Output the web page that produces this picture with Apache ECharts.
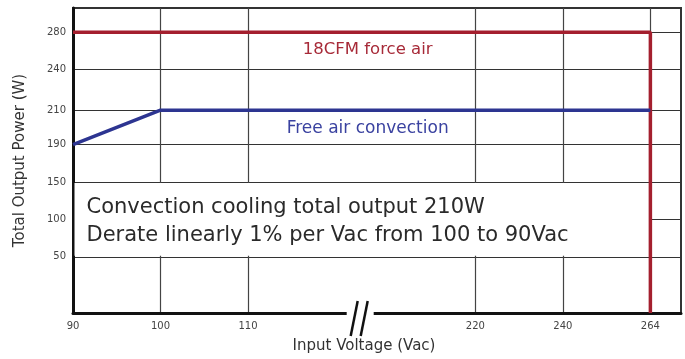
<!DOCTYPE html>
<html>
<head>
<meta charset="utf-8">
<script src="https://cdn.jsdelivr.net/npm/echarts@6/dist/echarts.min.js"></script>
<style>
  html, body { margin: 0; padding: 0; background: #fff; }
  #chart { width: 685px; height: 359px; }
</style>
</head>
<body>
<div id="chart"></div>
<script>
// Tick labels on both axes
const voltageTicks = [90, 100, 110, 220, 240, 264];
const powerTicks = [50, 100, 150, 190, 210, 240, 280];

// Derating curves (input voltage in Vac, output power in W)
const forcedAirVoltage = [90, 264, 264];
const forcedAirPower = [280, 280, 0];
const convectionVoltage = [90, 100, 264];
const convectionPower = [190, 210, 210];

const forcedAirName = '18CFM force air';
const convectionName = 'Free air convection';
const noteLines = [
  'Convection cooling total output 210W',
  'Derate linearly 1% per Vac from 100 to 90Vac'
];

// Both axes are broken / non-linear: every tick sits on a fixed slot and
// values in between are interpolated linearly between neighbouring ticks.
const xSlots = [0, 1, 2, 4.6, 5.6, 6.6];
const xRange = [0, 6.95];
const ySlots = [1, 2, 3, 4, 4.92, 6, 7];
const yRange = [-0.5, 7.65];
const yKnotValues = [0].concat(powerTicks);
const yKnotSlots = [yRange[0]].concat(ySlots);

function interp(v, vals, slots) {
  let i = 0;
  while (i < vals.length - 2 && v > vals[i + 1]) i++;
  const t = (v - vals[i]) / (vals[i + 1] - vals[i]);
  return slots[i] + t * (slots[i + 1] - slots[i]);
}
const xs = v => interp(v, voltageTicks, xSlots);
const ys = v => interp(v, yKnotValues, yKnotSlots);
const pairs = (vx, vy) => vx.map((v, i) => [xs(v), ys(vy[i])]);

function tickText(v, slots, labels) {
  const i = slots.findIndex(s => Math.abs(s - v) < 1e-6);
  return i < 0 ? '' : String(labels[i]);
}

const RED = '#a41f2e';
const BLUE = '#2d3591';
const FONT = '"DejaVu Sans", sans-serif';

const chart = echarts.init(document.getElementById('chart'));
chart.setOption({
  animation: false,
  grid: {
    left: 73, right: 4, top: 8, bottom: 46,
    show: true, borderColor: '#333', borderWidth: 2
  },
  xAxis: {
    type: 'value', min: xRange[0], max: xRange[1],
    name: 'Input Voltage (Vac)', nameLocation: 'middle', nameGap: 26,
    nameTextStyle: { fontFamily: FONT, fontSize: 15, color: '#333', padding: [0, 26, 0, 0] },
    axisLine: { show: true, onZero: false, lineStyle: { color: '#111', width: 3 } },
    axisTick: { show: false, customValues: xSlots },
    axisLabel: {
      customValues: xSlots, margin: 8,
      formatter: v => tickText(v, xSlots, voltageTicks),
      fontFamily: FONT, fontSize: 10, color: '#444'
    },
    splitLine: { show: true, lineStyle: { color: '#444', width: 1.2 } }
  },
  yAxis: {
    type: 'value', min: yRange[0], max: yRange[1],
    name: 'Total Output Power (W)', nameLocation: 'middle', nameGap: 45, nameRotate: 90,
    nameTextStyle: { fontFamily: FONT, fontSize: 15, color: '#333' },
    axisLine: { show: true, onZero: false, lineStyle: { color: '#111', width: 3 } },
    axisTick: { show: false, customValues: ySlots },
    axisLabel: {
      customValues: ySlots, margin: 7,
      formatter: v => tickText(v, ySlots, powerTicks),
      fontFamily: FONT, fontSize: 10, color: '#444'
    },
    splitLine: { show: true, lineStyle: { color: '#333', width: 1.2 } }
  },
  series: [
    {
      name: forcedAirName, type: 'line', data: pairs(forcedAirVoltage, forcedAirPower),
      symbol: 'none', z: 4,
      lineStyle: { color: RED, width: 3.5 }
    },
    {
      name: convectionName, type: 'line', data: pairs(convectionVoltage, convectionPower),
      symbol: 'none', z: 4,
      lineStyle: { color: BLUE, width: 3.5 }
    }
  ]
});

// Overlays positioned from the axes: note box, curve captions and the axis break
const px = v => chart.convertToPixel({ xAxisIndex: 0 }, xs(v));
const py = v => chart.convertToPixel({ yAxisIndex: 0 }, ys(v));

const boxLeft = px(voltageTicks[0]) + 1.5;
const boxRight = px(voltageTicks[voltageTicks.length - 1]);
const boxTop = py(150) + 1;
const boxBottom = py(50) - 1;
const captionX = (px(110) + px(220)) / 2 + 6;
const breakX = (px(110) + px(220)) / 2 - 2;
const axisY = py(0);

chart.setOption({
  graphic: [
    {
      type: 'rect', z: 1, silent: true,
      shape: { x: boxLeft, y: boxTop, width: boxRight - boxLeft, height: boxBottom - boxTop },
      style: { fill: '#fff' }
    },
    {
      type: 'text', z: 5, silent: true,
      style: {
        x: boxLeft + 12, y: py(100) + 2,
        text: noteLines.join('\n'), lineHeight: 28,
        font: '21px ' + FONT, fill: '#2a2a2a',
        textAlign: 'left', textVerticalAlign: 'middle'
      }
    },
    {
      type: 'text', z: 5, silent: true,
      style: {
        x: captionX, y: py(280) + 17, text: forcedAirName,
        font: '16.5px ' + FONT, fill: '#a72a38',
        textAlign: 'center', textVerticalAlign: 'middle'
      }
    },
    {
      type: 'text', z: 5, silent: true,
      style: {
        x: captionX, y: py(210) + 18, text: convectionName,
        font: '17px ' + FONT, fill: '#3a42a0',
        textAlign: 'center', textVerticalAlign: 'middle'
      }
    },
    {
      type: 'rect', z: 6, silent: true,
      shape: { x: breakX - 13, y: axisY - 3, width: 27, height: 6 },
      style: { fill: '#fff' }
    },
    {
      type: 'line', z: 7, silent: true,
      shape: { x1: breakX - 2, y1: axisY - 12, x2: breakX - 9, y2: axisY + 23 },
      style: { stroke: '#111', lineWidth: 2.5 }
    },
    {
      type: 'line', z: 7, silent: true,
      shape: { x1: breakX + 8, y1: axisY - 12, x2: breakX + 1, y2: axisY + 23 },
      style: { stroke: '#111', lineWidth: 2.5 }
    }
  ]
});
</script>
</body>
</html>
